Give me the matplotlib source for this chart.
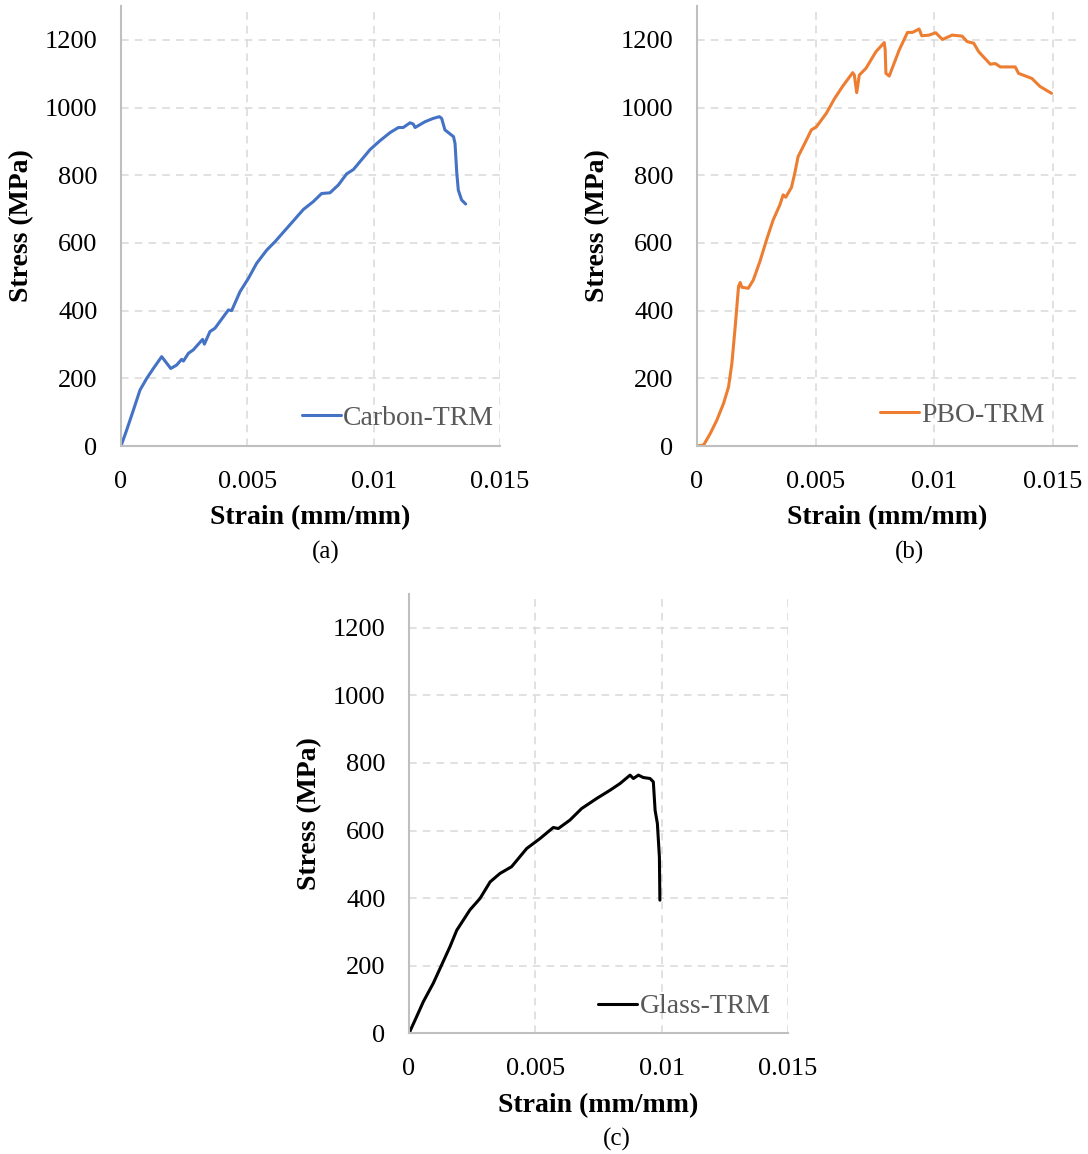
import matplotlib
matplotlib.use("Agg")
import matplotlib.pyplot as plt

# ---------------- data ----------------
carbon_strain = [0, 0.000224, 0.00049, 0.00075, 0.00102, 0.00128, 0.00161, 0.00197, 0.0022,
                 0.0024, 0.00247, 0.00267, 0.00286, 0.00323, 0.0033, 0.00352, 0.00372, 0.00425,
                 0.00438, 0.00471, 0.00504, 0.00537, 0.00577, 0.0061, 0.00656, 0.00722, 0.00761,
                 0.00794, 0.00827, 0.0086, 0.00893, 0.0092, 0.00986, 0.01025, 0.01065, 0.01098,
                 0.01117, 0.01144, 0.01157, 0.01164, 0.01203, 0.01236, 0.0126, 0.01269, 0.01282,
                 0.01316, 0.01322, 0.01329, 0.01335, 0.01348, 0.01364]
carbon_stress = [0, 47, 106, 165, 200, 229, 264, 229, 239,
                 256, 251, 274, 284, 315, 301, 338, 348, 402,
                 400, 456, 495, 540, 579, 604, 643, 699, 722,
                 746, 748, 771, 804, 817, 876, 902, 926, 941,
                 941, 955, 951, 941, 958, 968, 973, 968, 934,
                 914, 894, 806, 756, 727, 715]

pbo_strain = [0, 0.00028, 0.00056, 0.00084, 0.00112, 0.00133, 0.00147, 0.00161, 0.00175,
              0.00182, 0.00189, 0.00216, 0.00237, 0.00265, 0.00293, 0.00321, 0.00349, 0.00363,
              0.00374, 0.00398, 0.00412, 0.00426, 0.00454, 0.00482, 0.00503, 0.00545, 0.0058,
              0.00615, 0.00656, 0.00663, 0.00673, 0.00684, 0.00712, 0.00754, 0.00789, 0.00793,
              0.00796, 0.0081, 0.00852, 0.00887, 0.00908, 0.00936, 0.00947, 0.00978, 0.01006,
              0.01034, 0.01075, 0.01117, 0.01138, 0.01166, 0.01187, 0.01236, 0.01257, 0.01278,
              0.01341, 0.01355, 0.01411, 0.01446, 0.01494]
pbo_stress = [0, 3, 37, 77, 126, 175, 244, 353, 471,
              483, 469, 466, 490, 545, 609, 668, 712, 742,
              735, 764, 806, 855, 894, 934, 943, 983, 1027,
              1064, 1103, 1096, 1044, 1096, 1116, 1165, 1192, 1170,
              1101, 1093, 1170, 1222, 1222, 1232, 1212, 1214, 1221,
              1201, 1214, 1211, 1195, 1190, 1165, 1128, 1130, 1120,
              1120, 1101, 1086, 1062, 1042]

glass_strain = [0, 0.00024, 0.00057, 0.00096, 0.00129, 0.00162, 0.00189, 0.00241, 0.00281,
                0.00321, 0.0036, 0.00406, 0.00466, 0.00518, 0.00571, 0.00591, 0.00637, 0.00683,
                0.00743, 0.00795, 0.00835, 0.00875, 0.00888, 0.00908, 0.00927, 0.00954, 0.00967,
                0.00974, 0.00983, 0.00991, 0.00993]
glass_stress = [0, 39, 94, 148, 202, 256, 305, 365, 399,
                448, 473, 493, 547, 576, 609, 606, 631, 665,
                695, 719, 739, 764, 754, 764, 757, 754, 744,
                660, 621, 522, 394]

x_ticks = [0, 0.005, 0.01, 0.015]
x_tick_labels = ["0", "0.005", "0.01", "0.015"]
y_ticks = [0, 200, 400, 600, 800, 1000, 1200]
series_names = ["Carbon-TRM", "PBO-TRM", "Glass-TRM"]
captions = ["(a)", "(b)", "(c)"]

# ---------------- figure ----------------
W, H = 1088, 1154
fig = plt.figure(figsize=(W / 100, H / 100), dpi=100)
plt.rcParams["font.family"] = ["Liberation Serif", "DejaVu Serif"]

def px(x0, y_top, x1, y_bot):
    return [x0 / W, 1 - y_bot / H, (x1 - x0) / W, (y_bot - y_top) / H]

panels = [
    dict(rect=px(121, 6, 500, 446), xmax=0.015, x=carbon_strain, y=carbon_stress,
         color="#4472C4", name=series_names[0], leg=(0.985, 0.064),
         ylab_x=22, xlab_y=518, cap=captions[0], cap_x=326, cap_y=552),
    dict(rect=px(697, 6, 1076.7, 446), xmax=0.016, x=pbo_strain, y=pbo_stress,
         color="#ED7D31", name=series_names[1], leg=(0.916, 0.07),
         ylab_x=598, xlab_y=518, cap=captions[1], cap_x=910, cap_y=552),
    dict(rect=px(409, 594, 788, 1033.3), xmax=0.015, x=glass_strain, y=glass_stress,
         color="#000000", name=series_names[2], leg=(0.954, 0.061),
         ylab_x=310, xlab_y=1106, cap=captions[2], cap_x=617, cap_y=1139),
]

for p in panels:
    ax = fig.add_axes(p["rect"])
    ax.plot(p["x"], p["y"], color=p["color"], lw=2.2, label=p["name"],
            solid_joinstyle="round", solid_capstyle="round")
    ax.set_xlim(0, p["xmax"])
    ax.set_ylim(0, 1300)
    ax.set_xticks(x_ticks)
    ax.set_xticklabels(x_tick_labels)
    ax.set_yticks(y_ticks)
    ax.tick_params(length=0, labelsize=19, colors="#000000")
    ax.tick_params(axis="x", pad=18)
    ax.tick_params(axis="y", pad=17)
    ax.grid(True, color="#d9d9d9", linestyle=(0, (5, 4)), lw=1.1)
    ax.set_axisbelow(True)
    for s in ["top", "right"]:
        ax.spines[s].set_visible(False)
    for s in ["left", "bottom"]:
        ax.spines[s].set_color("#bfbfbf")
        ax.spines[s].set_linewidth(1.5)
    ax.legend(loc="center right", bbox_to_anchor=p["leg"], frameon=False,
              fontsize=20, handlelength=1.4, handletextpad=0.1,
              borderpad=0, borderaxespad=0, labelcolor="#595959")
    r = p["rect"]
    cx = r[0] + r[2] / 2
    fig.text(p["ylab_x"] / W, r[1] + r[3] / 2, "Stress (MPa)", rotation=90,
             ha="center", va="center", fontsize=20, fontweight="bold")
    fig.text(cx, 1 - p["xlab_y"] / H, "Strain (mm/mm)", ha="center", va="center",
             fontsize=20, fontweight="bold")
    fig.text(p["cap_x"] / W, 1 - p["cap_y"] / H, p["cap"], ha="center", va="center",
             fontsize=18)

fig.savefig("out.png", dpi=100)
